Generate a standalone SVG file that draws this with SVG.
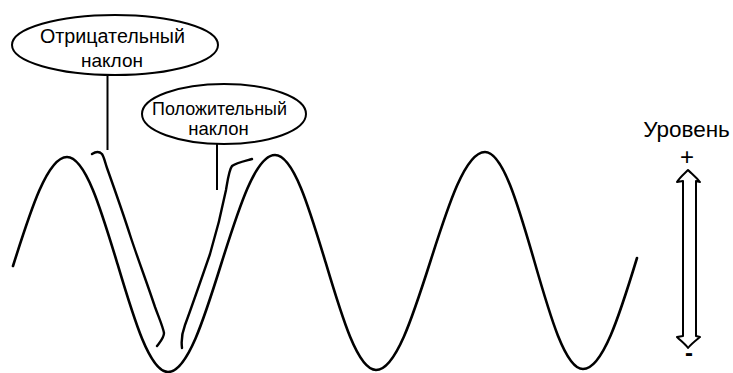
<svg xmlns="http://www.w3.org/2000/svg" width="733" height="373" viewBox="0 0 733 373">
<style>
.t{font-family:"Liberation Sans",Arial,sans-serif;fill:#000;text-anchor:middle}
.e{fill:#fff;stroke:#000;stroke-width:2}
.w{fill:none;stroke:#000;stroke-width:2.6;stroke-linecap:round;stroke-linejoin:round}
.h{fill:none;stroke:#000;stroke-width:2.4;stroke-linecap:round;stroke-linejoin:round}
.p{fill:none;stroke:#000;stroke-width:2}
</style>
<rect width="733" height="373" fill="#fff"/>
<g id="wave">
<path class="w" d="M13,266 C30.6,210.2 47.5,157 67,157 C85.3,157 101,209.2 117.5,264 C134,319.3 149.7,372 168,372 C187.4,372 204.1,318.8 221.5,263 C238.9,207.7 255.6,155 275,155 C293.3,155 309,207.2 325.5,262 C342,317.3 357.7,370 376,370 C395.7,370 412.7,316.8 430.5,261 C448.3,205.2 465.3,152 485,152 C502.7,152 518,204.7 534,260 C550,315.8 565.3,369 583,369 C602.5,369 619.4,315.8 637,258"/>
</g>
<g id="connectors">
<line class="p" x1="107.5" y1="75" x2="107.5" y2="150"/>
<line class="p" x1="217" y1="143" x2="217" y2="190"/>
</g>
<g id="neg-slope">
<path class="h" d="M92,154 C95,152 99,151 102,154 C104,157 105,162 107,168 C112,182 122,210 131,238 C139,262 147,283 155,307 C159,318 163,327 164,333 C164,338 160,342 157,346"/>
</g>
<g id="pos-slope">
<path class="h" d="M182,348 C181,340 182,333 185,325 C192,306 201,280 210,254 C216,234 222,210 226,190 C228,178 229,170 232,166 C236,163 245,161 252,159"/>
</g>
<g id="label-neg">
<ellipse class="e" cx="115" cy="45" rx="103" ry="30"/>
<text class="t" x="112.5" y="43" font-size="19.5" textLength="145" lengthAdjust="spacingAndGlyphs">Отрицательный</text>
<text class="t" x="112" y="67" font-size="19">наклон</text>
</g>
<g id="label-pos">
<ellipse class="e" cx="224" cy="114" rx="82" ry="30"/>
<text class="t" x="219.5" y="115" font-size="18.5" textLength="135" lengthAdjust="spacingAndGlyphs">Положительный</text>
<text class="t" x="218.5" y="135" font-size="18.5">наклон</text>
</g>
<g id="level">
<text class="t" x="686.5" y="137" font-size="22.5">Уровень</text>
<text class="t" x="687" y="165" font-size="24">+</text>
<path d="M688,170 C684,174 680,177 677,182 L683,181 L683,336 L677,337 C681,341 685,344 688,348 C691,344 695,341 700,337 L696,336 L696,181 L700,182 C696,177 692,174 688,170 Z" fill="#fff" stroke="#000" stroke-width="2" stroke-linejoin="round"/>
<text class="t" x="689" y="361" font-size="24" font-weight="bold">-</text>
</g>
</svg>
